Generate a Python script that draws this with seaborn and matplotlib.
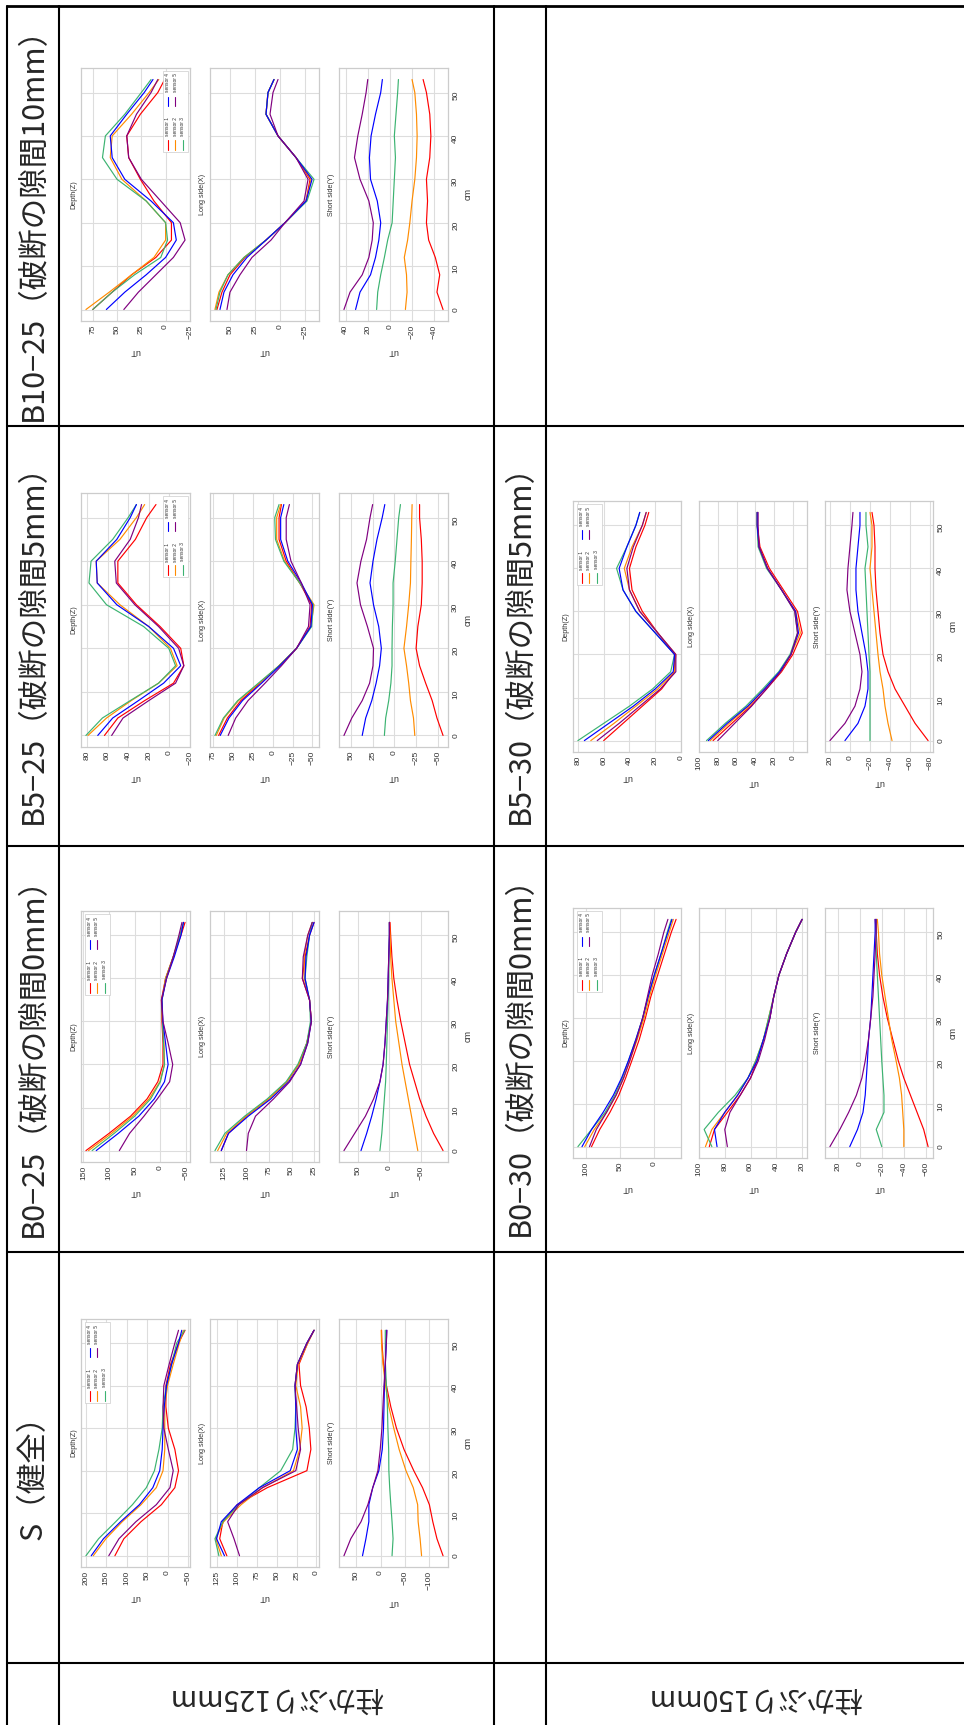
import numpy as np
import pandas as pd
import matplotlib
matplotlib.use("Agg")
import matplotlib.pyplot as plt
import seaborn as sns
from matplotlib.lines import Line2D
from matplotlib.patches import Rectangle

W, H = 964, 1725

# ---------------- data ----------------
cm = [0, 4, 8, 12, 16, 20, 25, 30, 35, 40, 45, 50, 53]
sensors = ["sensor 1", "sensor 2", "sensor 3", "sensor 4", "sensor 5"]
colors = ["red", "darkorange", "mediumseagreen", "blue", "purple"]
titles = ["Depth(Z)", "Long side(X)", "Short side(Y)"]

# S (healthy)
s_depth = [
    [129, 107, 65, 15, -18, -27, -18, -2, 4, 4, -7.5, -27, -43],
    [182, 151, 111, 65, 27.5, 11, 6.7, 6.7, 6.7, 0, -14, -29, -39],
    [200, 169, 127, 86, 52, 32, 21, 13, 11, 2.5, -10, -22.5, -42],
    [187, 157, 115, 69, 36, 19, 13, 11, 8, 2.5, -10, -27, -35],
    [144, 119, 77.5, 27.5, -6, -14, -2, 9, 11, 9, -4, -18, -27],
]
s_long = [
    [113, 122, 118, 100, 62, 12, 7, 9, 13, 20, 22, 11, 3],
    [120, 127, 117, 95, 68, 29, 21, 18, 20, 26, 23, 11, 3],
    [123, 128, 118, 98, 72, 45, 30, 27, 26, 27, 24, 12, 3],
    [116, 126, 120, 100, 72, 33, 24, 26, 26, 27, 24, 12, 3],
    [97, 104, 112, 98, 68, 26, 20, 23, 25, 27, 24, 12, 3],
]
s_short = [
    [-128, -115.5, -107, -100, -86, -68, -48, -32.5, -21, -12, -6, -2.8, -2],
    [-84, -81, -77, -76, -67, -52, -38, -27, -17, -10, -5, -2, -1.4],
    [-23.5, -25.6, -23.5, -21, -18.7, -17, -16.6, -15, -14, -12, -10, -9.7, -9.7],
    [37, 30, 24, 24, 16, 3.5, -3.5, -6, -7, -8, -9.7, -11.8, -12.5],
    [75, 61, 40, 26, 16, 5.5, 0.7, -2.8, -4.8, -7, -9.7, -11.8, -13],
]
s_ticks = [[-50, 0, 50, 100, 150, 200], [0, 25, 50, 75, 100, 125], [-100, -50, 0, 50]]

# B0-25
b0_25_depth = [
    [145, 100, 58, 26, 5, -5, -5, -3, -2, -10, -25, -40, -48],
    [140, 95, 54, 22, 1, -8, -7, -4, -3, -10, -25, -38, -45],
    [133, 90, 50, 19, 0, -8, -6, -4, -3, -11, -25, -38, -45],
    [125, 82, 42, 12, -8, -15, -10, -5, -3, -12, -27, -40, -45],
    [80, 60, 32, 6, -18, -24, -15, -5, -2, -12, -25, -36, -42],
]
b0_25_long = [
    [128, 120, 100, 75, 55, 42, 33, 28, 30, 38, 35, 30, 25],
    [132, 122, 100, 75, 55, 42, 33, 28, 30, 36, 36, 32, 27],
    [135, 124, 102, 77, 56, 43, 33, 29, 30, 35, 33, 30, 27],
    [128, 120, 98, 73, 53, 40, 32, 28, 30, 35, 34, 30, 25],
    [100, 98, 90, 70, 52, 40, 32, 28, 30, 38, 37, 32, 27],
]
b0_25_short = [
    [-85, -70, -58, -48, -40, -32, -25, -18, -12, -7, -4, -2, -1],
    [-45, -40, -35, -30, -25, -20, -15, -10, -7, -4, -2, -1, 0],
    [15, 12, 10, 8, 6, 5, 4, 3, 2, 1, 1, 0, 0],
    [45, 36, 28, 21, 15, 10, 7, 5, 3, 2, 1, 0, 0],
    [72, 55, 38, 25, 15, 10, 7, 5, 3, 2, 1, 0, 0],
]
b0_25_ticks = [[-50, 0, 50, 100, 150], [25, 50, 75, 100, 125], [-50, 0, 50]]

# B5-25
b5_25_depth = [
    [63, 50, 24, -4, -14, -11, 9, 32, 50, 50, 33, 22, 13],
    [79, 61, 37, 10.5, -7.5, -1, 20, 48, 70, 71, 48, 32, 24],
    [81, 65, 38, 10.5, -6, 0.6, 25, 61, 78, 76, 55, 40, 32],
    [69.5, 55, 30, 5.6, -11, -4, 20, 51, 70, 71, 51, 38, 32],
    [56, 45, 20, -6, -14, -9, 10.5, 33.5, 51.5, 53, 38, 30, 27],
]
b5_25_long = [
    [68, 57, 40, 16, -8, -30, -47, -49, -34, -17, -8, -8, -11],
    [71, 61, 43, 17, -8, -30, -48, -52, -34, -15, -5, -5, -10],
    [72.6, 62, 44, 18, -8, -30, -49, -51, -34, -14, -3.5, -2.6, -8],
    [66, 55, 38, 14, -9, -30, -48, -50, -36, -19, -10, -10, -14],
    [56, 46.5, 31, 9.6, -11, -30, -45, -47, -36, -23, -17, -17, -21],
]
b5_25_short = [
    [-56, -49, -43.5, -36, -29, -25, -27, -31, -32, -32, -31, -29, -29],
    [-23.5, -22, -18.5, -16.5, -14, -11, -14, -16.5, -18.5, -19, -19.6, -20, -20.4],
    [11.5, 10, 6.5, 4, 2.7, 2.7, 2.3, 1.5, 1.5, -1, -3, -5, -7],
    [37, 33, 26, 21, 17, 15, 18, 24, 28, 24.6, 20, 14, 11],
    [58, 49, 37, 28.5, 24.6, 24, 31, 39, 43, 38.5, 32, 28, 25],
]
b5_25_ticks = [[-20, 0, 20, 40, 60, 80], [-50, -25, 0, 25, 50, 75], [-50, -25, 0, 25, 50]]

# B10-25
b10_25_depth = [
    [75, 55, 35, 10, -6, -6, 12, 26, 38, 40, 26, 8, 1],
    [82, 58, 35, 12, 0, 0, 20, 45, 57, 55, 35, 17, 7],
    [75, 55, 32, 5, -2, 0, 20, 50, 65, 62, 42, 25, 15],
    [61, 42, 20, 0, -11, -8, 15, 42, 55, 57, 40, 22, 13],
    [43, 28, 10, -8, -20, -15, 5, 25, 38, 40, 30, 15, 8],
]
b10_25_long = [
    [63, 58, 50, 35, 14, -5, -26, -30, -16, 2, 14, 12, 6],
    [65, 61, 52, 36, 14, -5, -26, -31, -16, 2, 14, 12, 6],
    [64, 60, 52, 36, 14, -5, -27, -34, -16, 2, 14, 12, 6],
    [60, 56, 47, 33, 14, -5, -26, -32, -16, 2, 14, 12, 6],
    [53, 50, 40, 28, 9, -5, -24, -28, -16, 2, 10, 7, 2],
]
b10_25_short = [
    [-48, -42.5, -45, -41, -35, -33, -34, -33, -36, -37, -36, -33, -30],
    [-14, -15.5, -15, -13, -16, -18, -20, -22.5, -24, -24.6, -24, -22.5, -20],
    [12, 11, 8.3, 5, 2, -2, -3, -4, -5, -4, -5.5, -7, -7.7],
    [31, 27, 17.5, 13, 10, 8.3, 11.4, 17.5, 18.5, 17, 13, 8.3, 6.8],
    [41.5, 36, 25, 19, 16, 15, 19, 27, 32, 29, 25, 21.5, 20],
]
b10_25_ticks = [[-25, 0, 25, 50, 75], [-25, 0, 25, 50], [-40, -20, 0, 20, 40]]

# B0-30
b0_30_depth = [
    [92, 80, 65, 52, 42, 33, 22, 13, 5, -5, -15, -25, -32],
    [102, 88, 70, 56, 45, 36, 25, 15, 7, -2, -12, -22, -28],
    [112, 92, 72, 58, 47, 38, 27, 17, 9, 0, -10, -19, -25],
    [106, 92, 75, 60, 48, 38, 27, 17, 9, 0, -10, -20, -26],
    [95, 85, 70, 56, 45, 36, 26, 17, 10, 3, -6, -14, -20],
]
b0_30_long = [
    [92, 88, 78, 68, 60, 55, 50, 45, 42, 38, 32, 25, 20],
    [95, 90, 80, 70, 62, 56, 50, 46, 42, 38, 32, 25, 20],
    [90, 96, 85, 72, 62, 56, 50, 46, 42, 38, 32, 25, 20],
    [86, 88, 80, 70, 62, 55, 50, 45, 42, 38, 32, 25, 20],
    [78, 80, 76, 68, 60, 54, 49, 45, 42, 38, 32, 25, 20],
]
b0_30_short = [
    [-62, -58, -52, -46, -40, -35, -30, -25, -21, -18, -16, -15, -14],
    [-40, -40, -39, -38, -36, -33, -29, -26, -23, -20, -18, -17, -16],
    [-20, -15, -22, -22, -21, -20, -19, -18, -17, -16, -15, -15, -15],
    [9, 2, -3, -5, -6, -7, -8, -10, -11, -12, -13, -14, -14],
    [27, 18, 10, 3, -2, -5, -8, -10, -12, -13, -14, -15, -15],
]
b0_30_ticks = [[0, 50, 100], [20, 40, 60, 80, 100], [-60, -40, -20, 0, 20]]

# B5-30
b5_30_depth = [
    [60, 45, 30, 15, 5, 5, 18, 30, 38, 40, 35, 28, 25],
    [70, 52, 35, 18, 5, 4, 18, 32, 40, 44, 38, 30, 27],
    [80, 60, 40, 22, 8, 5, 20, 35, 45, 50, 42, 35, 32],
    [75, 56, 37, 20, 6, 5, 20, 35, 45, 48, 42, 35, 32],
    [65, 48, 32, 16, 4, 4, 18, 32, 40, 42, 37, 30, 27],
]
b5_30_long = [
    [85, 65, 45, 28, 12, 0, -10, -5, 10, 25, 35, 38, 38],
    [88, 68, 47, 30, 13, 2, -8, -3, 12, 27, 36, 38, 38],
    [92, 72, 50, 32, 15, 3, -5, -2, 12, 28, 37, 38, 38],
    [90, 70, 48, 30, 14, 2, -6, -3, 12, 27, 36, 38, 38],
    [80, 62, 44, 28, 13, 2, -5, -2, 12, 27, 36, 37, 37],
]
b5_30_short = [
    [-78, -65, -55, -45, -38, -33, -30, -28, -26, -25, -25, -24, -22],
    [-42, -38, -35, -33, -30, -28, -26, -24, -22, -20, -22, -22, -20],
    [-20, -20, -20, -20, -20, -19, -18, -17, -16, -15, -18, -16, -16],
    [5, -8, -15, -18, -18, -16, -12, -8, -6, -6, -8, -10, -10],
    [20, 5, -5, -10, -12, -10, -5, 0, 3, 2, 0, -2, -3],
]
b5_30_ticks = [[0, 20, 40, 60, 80], [0, 20, 40, 60, 80, 100], [-80, -60, -40, -20, 0, 20]]

row_labels = ["柱かぶり125mm", "柱かぶり150mm"]
headers_row1 = ["B10−25（破断の隙間10mm）", "B5−25（破断の隙間5mm）",
                "B0−25（破断の隙間0mm）", "S（健全）"]
headers_row2 = ["B5−30（破断の隙間5mm）", "B0−30（破断の隙間0mm）"]

# ---------------- style ----------------
sns.set_theme(style="whitegrid", rc={"grid.color": "#dddddd", "axes.edgecolor": "#cccccc"})
plt.rcParams["font.family"] = ["Liberation Sans", "DejaVu Sans"]
JP = ["Noto Sans CJK JP", "DejaVu Sans"]
GREY = "#333333"

fig = plt.figure(figsize=(W / 100, H / 100), dpi=100)


def px_axes(x0, y0, w, h):
    return fig.add_axes([x0 / W, 1 - (y0 + h) / H, w / W, h / H])


def draw_legend(ax, left, top, aw, ah):
    bw, bh = 25, 81
    fx = lambda p: (left + p) / aw
    fy = lambda p: 1 - (top + p) / ah
    ax.add_patch(Rectangle((fx(0), fy(bh)), bw / aw, bh / ah, transform=ax.transAxes,
                           facecolor="white", edgecolor="#cccccc", lw=0.5, zorder=5))
    slots = [(4.5, 56, 69, 79), (12, 56, 69, 79), (19.5, 56, 69, 79),
             (4.5, 12, 26, 35), (12, 12, 26, 35)]
    for (x, ty, h0, h1), lab, c in zip(slots, sensors, colors):
        ax.add_line(Line2D([fx(x), fx(x)], [fy(h0), fy(h1)], transform=ax.transAxes,
                           color=c, lw=0.8, zorder=6))
        ax.text(fx(x), fy(ty), lab, rotation=90, ha="center", va="center",
                fontsize=3.5, color=GREY, transform=ax.transAxes, zorder=6)


def draw_panel(curves, ticks, xs, top, w, h, legend_right):
    for i, (vals, tk) in enumerate(zip(curves, ticks)):
        ax = px_axes(xs[i], top, w, h)
        df = pd.DataFrame({
            "cm": cm * len(sensors),
            "uT": np.concatenate(vals),
            "sensor": np.repeat(sensors, len(cm)),
        })
        sns.lineplot(data=df, x="uT", y="cm", hue="sensor", palette=colors,
                     estimator=None, sort=False, legend=False, lw=0.85, ax=ax)
        ax.invert_xaxis()
        ax.set_xticks(tk)
        ax.set_yticks([0, 10, 20, 30, 40, 50])
        ax.grid(True, lw=0.8)
        for sp in ax.spines.values():
            sp.set_linewidth(0.9)
        ax.tick_params(axis="x", labelsize=6, labelrotation=90, pad=2.5, length=0,
                       labelcolor=GREY)
        ax.set_xlabel("uT", rotation=180, fontsize=6.5, labelpad=6, color=GREY)
        if i == 2:
            ax.yaxis.tick_right()
            ax.yaxis.set_label_position("right")
            ax.tick_params(axis="y", labelsize=6, labelrotation=90, pad=3, length=0,
                           labelcolor=GREY)
            ax.set_ylabel("cm", rotation=90, fontsize=6.5, labelpad=3, color=GREY)
        else:
            ax.tick_params(axis="y", labelleft=False, labelright=False, length=0)
            ax.set_ylabel("")
        ax.text(-0.065, 0.5, titles[i], rotation=90, ha="center", va="center",
                fontsize=5.2, color=GREY, transform=ax.transAxes)
        if i == 0:
            left = w - 27 if legend_right else 4
            draw_legend(ax, left, 3, w, h)


row1_x = [81, 210, 339]
row2_x = [573, 699, 825]
draw_panel([b10_25_depth, b10_25_long, b10_25_short], b10_25_ticks, row1_x, 68, 109, 253, True)
draw_panel([b5_25_depth, b5_25_long, b5_25_short], b5_25_ticks, row1_x, 493, 109, 254, True)
draw_panel([b0_25_depth, b0_25_long, b0_25_short], b0_25_ticks, row1_x, 911, 109, 251, False)
draw_panel([s_depth, s_long, s_short], s_ticks, row1_x, 1319, 109, 248, False)
draw_panel([b5_30_depth, b5_30_long, b5_30_short], b5_30_ticks, row2_x, 501, 108, 251, False)
draw_panel([b0_30_depth, b0_30_long, b0_30_short], b0_30_ticks, row2_x, 908, 108, 250, False)

# ---------------- table frame ----------------
def fline(x0, y0, x1, y1, lw=1.5):
    fig.add_artist(Line2D([x0 / W, x1 / W], [1 - y0 / H, 1 - y1 / H],
                          transform=fig.transFigure, color="black", lw=lw))


fline(7, 6, W, 6, lw=2)
for y in [426, 846, 1252, 1663]:
    fline(7, y, W, y)
for x in [7, 59, 494, 546]:
    fline(x, 6, x, H)

for txt, yc in zip(headers_row1, [216, 636, 1049, 1470]):
    fig.text(33 / W, 1 - yc / H, txt, rotation=90, ha="center", va="center",
             fontsize=22, family=JP)
for txt, yc in zip(headers_row2, [636, 1049]):
    fig.text(520 / W, 1 - yc / H, txt, rotation=90, ha="center", va="center",
             fontsize=22, family=JP)
for txt, xc in zip(row_labels, [276, 755]):
    fig.text(xc / W, 1 - 1697 / H, txt, rotation=180, ha="center", va="center",
             fontsize=20.5, family=JP)

fig.savefig("out.png", dpi=100)
